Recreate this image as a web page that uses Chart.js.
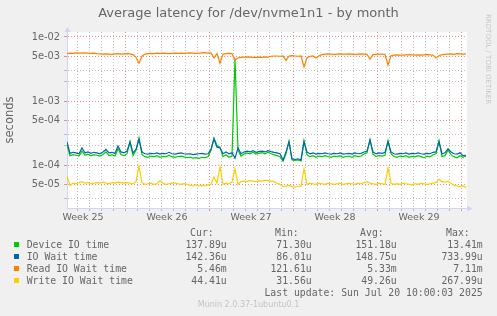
<!DOCTYPE html>
<html>
<head>
<meta charset="utf-8">
<script src="https://cdn.jsdelivr.net/npm/chart.js@4.4.1/dist/chart.umd.min.js"></script>
<style>
  html, body { margin: 0; padding: 0; background: #F0F0F0; }
  #wrap { position: relative; width: 497px; height: 316px; overflow: hidden; font-family: 'DejaVu Sans'; color: #666; }
  #chart { position: absolute; left: 0; top: 0; }
  .title { position: absolute; left: 0; top: 5px; width: 497px; text-align: center; font-size: 13px; line-height: 16px; }
  .mono { position: absolute; font-family: 'DejaVu Sans Mono'; font-size: 9.8px; line-height: 12px; white-space: pre; }
  .sq { position: absolute; width: 5px; height: 5px; }
  .ver { position: absolute; left: 0; top: 300px; width: 497px; text-align: center; font-size: 8px; line-height: 10px; color: #C4C4C4; }
  .rrd { position: absolute; left: 483px; top: 14px; writing-mode: vertical-rl; font-size: 7px; line-height: 9px; color: #C8C8C8; }
</style>
</head>
<body>
<div id="wrap">
  <canvas id="chart" width="497" height="316"></canvas>
  <div class="title">Average latency for /dev/nvme1n1 - by month</div>
  <div class="rrd">RRDTOOL / TOBI OETIKER</div>
  <div id="legend"></div>
  <div class="ver">Munin 2.0.37-1ubuntu0.1</div>
</div>
<script>
// values in microseconds, one sample every 6 hours
const deviceIO = [
  205,140,145,142,138,165,142,148,140,145,
  142,138,146,160,140,145,138,180,146,140,
  150,230,140,170,265,145,135,132,138,135,
  140,132,136,134,142,135,132,136,138,134,
  130,132,128,130,127,132,130,135,170,265,
  200,190,135,145,132,138,4600,170,138,148,
  155,150,158,148,152,156,150,158,150,145,
  140,135,115,150,235,120,118,120,116,240,
  145,135,140,132,138,135,140,136,132,138,
  135,140,132,136,138,132,140,135,138,148,
  155,250,148,136,140,138,142,240,150,136,
  132,138,135,140,132,136,134,140,135,130,
  138,134,145,150,240,136,140,170,145,135,
  130,140,132,138
];
const ioWait = [
  230,152,158,155,150,185,155,160,152,158,
  155,150,160,175,155,158,152,198,160,155,
  165,230,155,175,250,160,150,148,152,150,
  155,148,152,150,158,150,148,152,155,150,
  148,150,145,148,150,152,148,150,175,255,
  190,185,150,160,150,155,128,185,150,160,
  165,160,168,158,162,165,160,168,162,158,
  155,150,120,160,230,125,122,125,120,230,
  160,150,155,148,152,150,155,150,148,152,
  150,155,148,150,152,148,155,150,152,160,
  165,245,160,150,155,152,158,230,160,150,
  148,152,150,155,148,152,150,155,150,148,
  152,150,158,160,230,150,155,180,160,150,
  148,155,140,142
];
const readIOWait = [
  5500,5600,5550,5650,5600,5600,5650,5600,5550,5600,
  5500,5450,5400,5450,5400,5350,5450,5500,5400,5450,
  5500,5450,5300,4800,3900,5000,5400,5500,5550,5500,
  5600,5550,5600,5550,5500,5550,5600,5550,5600,5550,
  5600,5650,5600,5550,5600,5650,5700,5600,5650,4700,
  5500,3900,5400,5500,5550,5500,4400,4700,4800,4850,
  4900,4850,4800,4800,4850,4800,4900,4850,5000,5050,
  5050,5000,5050,4300,5050,5100,5050,5000,5050,3400,
  4700,5000,5050,4700,5100,5300,5400,5450,5400,5350,
  5400,5450,5400,5400,5450,5400,5350,5400,5450,5400,
  5350,4500,5300,5350,5400,5400,5350,3650,5100,5200,
  5250,5200,5200,5250,5300,5250,5200,5250,5200,5250,
  5300,5250,5200,4700,5100,5300,5350,5400,5450,5350,
  5500,5450,5400,5460
];
const writeIOWait = [
  67,48,52,51,53,55,52,53,51,52,
  53,52,54,52,51,53,52,54,53,52,
  53,52,51,55,96,53,50,51,52,50,
  51,57,52,50,51,52,52,51,50,51,
  50,48,47,49,47,48,47,49,50,65,
  52,94,50,52,51,54,87,50,55,56,
  55,57,56,55,57,56,58,57,56,55,
  52,50,46,47,48,46,45,47,46,87,
  50,52,51,50,52,51,50,52,51,50,
  51,52,50,51,52,51,50,52,51,53,
  55,52,51,50,52,51,50,90,52,50,
  51,50,52,51,50,49,51,50,52,51,
  50,51,52,53,60,55,54,56,52,48,
  47,46,47,44.4
];

const seriesNames = ['Device IO time', 'IO Wait time', 'Read IO Wait time', 'Write IO Wait time'];
const seriesColors = ['#00CC00', '#0066B3', '#FF8000', '#FFCC00'];
const curText = ['137.89u', '142.36u', '5.46m', '44.41u'];
const minText = ['71.30u', '86.01u', '121.61u', '31.56u'];
const avgText = ['151.18u', '148.75u', '5.33m', '49.26u'];
const maxText = ['13.41m', '733.99u', '7.11m', '267.99u'];
const weekLabels = ['Week 25', 'Week 26', 'Week 27', 'Week 28', 'Week 29'];
const yLabelled = [50, 100, 500, 1000, 5000, 10000];   // µs
const yMinor = [30, 200, 300, 2000, 3000];             // µs

const STEP_H = 6;           // hours per sample
const AXIS_HOURS = 800;     // whole x range
const FIRST_MIDNIGHT = 20;  // hours after start
const FIRST_MONDAY = 116;
const Y_MIN = 21.3, Y_MAX = 11970;

const AXIS_COLOR = '#CFD6F8';
const MINOR_GRID = 'rgba(170,170,170,0.75)';
const MAJOR_GRID = 'rgba(235,110,110,0.75)';

// legend table
const legend = document.getElementById('legend');
const colRight = [226.7, 311.7, 396.7, 482.7];
function addText(txt, top, right, left) {
  const d = document.createElement('div');
  d.className = 'mono';
  d.textContent = txt;
  d.style.top = top + 'px';
  if (right != null) d.style.right = (497 - right) + 'px';
  if (left != null) d.style.left = left + 'px';
  legend.appendChild(d);
}
['Cur:', 'Min:', 'Avg:', 'Max:'].forEach((h, k) => addText(h, 226.7, colRight[k] - 13));
seriesNames.forEach((n, r) => {
  const top = 238.7 + r * 12;
  const sq = document.createElement('div');
  sq.className = 'sq';
  sq.style.left = '14px';
  sq.style.top = (top + 3.5) + 'px';
  sq.style.background = seriesColors[r];
  legend.appendChild(sq);
  addText(n, top, null, 26.7);
  [curText, minText, avgText, maxText].forEach((col, k) => addText(col[r], top, colRight[k]));
});
addText('Last update: Sun Jul 20 10:00:03 2025', 286.7, 482.7);

function toPoints(arr) {
  return arr.map((v, i) => ({ x: i * STEP_H, y: v }));
}

function fmtSeconds(us) {
  const s = us / 1e6;
  const e = Math.floor(Math.log10(s) + 1e-9);
  const m = Math.round(s / Math.pow(10, e));
  return m + 'e-' + String(-e).padStart(2, '0');
}

function xGridColor(c) {
  const t = c.tick;
  if (!t) return AXIS_COLOR;
  if (t.week) return 'rgba(0,0,0,0)';
  return (t.value - FIRST_MONDAY) % 168 === 0 ? MAJOR_GRID : MINOR_GRID;
}
function yGridColor(c) {
  const t = c.tick;
  if (!t) return AXIS_COLOR;
  return yLabelled.includes(t.value) ? MAJOR_GRID : MINOR_GRID;
}

const canvasBg = {
  id: 'canvasBg',
  beforeDraw(chart) {
    const { ctx, chartArea: a } = chart;
    ctx.save();
    ctx.fillStyle = '#FFFFFF';
    ctx.fillRect(a.left, a.top, a.right - a.left, a.bottom - a.top);
    ctx.restore();
  }
};

const axisArrows = {
  id: 'axisArrows',
  afterDraw(chart) {
    const { ctx, chartArea: a } = chart;
    ctx.save();
    ctx.fillStyle = AXIS_COLOR;
    ctx.beginPath();
    ctx.moveTo(a.left - 2.5, a.top);
    ctx.lineTo(a.left + 3.5, a.top);
    ctx.lineTo(a.left + 0.5, a.top - 5);
    ctx.fill();
    ctx.beginPath();
    ctx.moveTo(a.right, a.bottom - 2.5);
    ctx.lineTo(a.right, a.bottom + 3.5);
    ctx.lineTo(a.right + 6, a.bottom + 0.5);
    ctx.fill();
    ctx.restore();
  }
};

const allSeries = [deviceIO, ioWait, readIOWait, writeIOWait];

new Chart(document.getElementById('chart'), {
  type: 'line',
  data: {
    datasets: allSeries.map((s, k) => ({
      label: seriesNames[k],
      data: toPoints(s),
      borderColor: seriesColors[k],
      backgroundColor: seriesColors[k],
      borderWidth: 1.2,
      pointRadius: 0,
      tension: 0,
      fill: false,
      order: 4 - k
    }))
  },
  options: {
    responsive: false,
    animation: false,
    devicePixelRatio: 1,
    layout: { padding: { top: 32, right: 30, bottom: 88, left: 0 } },
    plugins: {
      legend: { display: false },
      tooltip: { enabled: false },
      title: { display: false }
    },
    scales: {
      x: {
        type: 'linear',
        min: 0,
        max: AXIS_HOURS,
        afterFit: s => { s.height = 20; },
        afterBuildTicks: s => {
          const t = [];
          for (let h = FIRST_MIDNIGHT; h < AXIS_HOURS; h += 24) t.push({ value: h });
          weekLabels.forEach((w, k) => t.push({ value: FIRST_MONDAY - 84 + 168 * k, week: w }));
          t.sort((a, b) => a.value - b.value);
          s.ticks = t;
        },
        grid: {
          color: xGridColor,
          tickColor: xGridColor,
          lineWidth: 1,
          tickLength: 3
        },
        border: { color: AXIS_COLOR, width: 1, dash: c => (c.tick ? [1, 2] : []) },
        ticks: {
          autoSkip: false,
          maxRotation: 0,
          padding: 1,
          color: '#666',
          font: { family: 'DejaVu Sans', size: 9.5 },
          callback: (v, i, ticks) => ticks[i].week || ''
        }
      },
      y: {
        type: 'logarithmic',
        min: Y_MIN,
        max: Y_MAX,
        afterFit: s => { s.width = 67; },
        afterBuildTicks: s => {
          s.ticks = yLabelled.concat(yMinor).sort((a, b) => a - b).map(v => ({ value: v }));
        },
        grid: {
          color: yGridColor,
          tickColor: yGridColor,
          lineWidth: 1,
          tickLength: 3
        },
        border: { color: AXIS_COLOR, width: 1, dash: c => (c.tick ? [1, 2] : []) },
        ticks: {
          autoSkip: false,
          padding: 4,
          color: '#666',
          font: { family: 'DejaVu Sans', size: 9.8 },
          callback: v => (yLabelled.includes(v) ? fmtSeconds(v) : '')
        },
        title: {
          display: true,
          text: 'seconds',
          color: '#666',
          font: { family: 'DejaVu Sans', size: 11.5 },
          padding: { top: 3, bottom: 0 }
        }
      }
    }
  },
  plugins: [canvasBg, axisArrows]
});
</script>
</body>
</html>
